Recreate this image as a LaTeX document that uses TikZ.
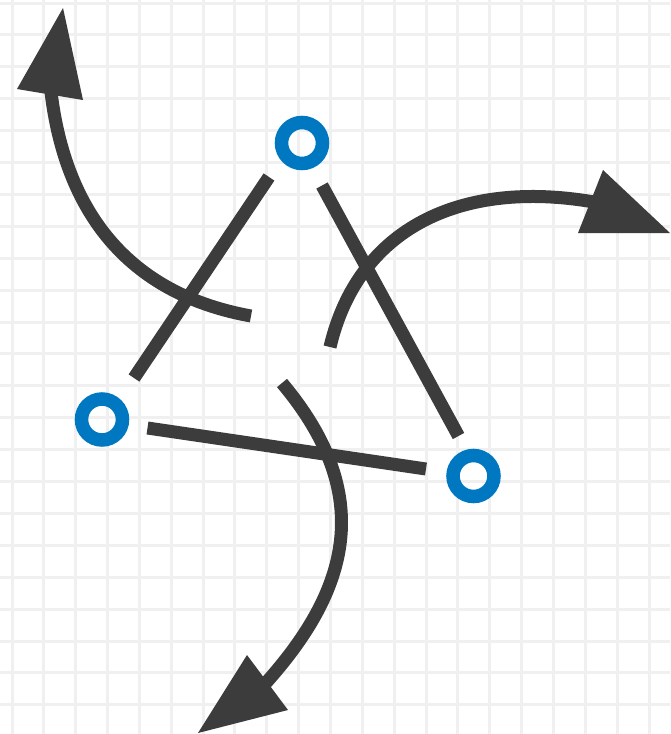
\documentclass[tikz,border=0pt]{standalone}
\definecolor{ink}{HTML}{3C3C3C}
\definecolor{ringblue}{HTML}{0078C1}
\definecolor{gridc}{HTML}{F0F0F0}
\begin{document}
\begin{tikzpicture}[x=1pt,y=-1pt,
  gridline/.style={draw=gridc,line width=3pt},
  ring/.style={circle,draw=ringblue,line width=13.5pt,minimum size=41pt,inner sep=0pt},
  bar/.style={draw=ink,line width=13pt,line cap=butt},
  head/.style={fill=ink,draw=none}]
\useasboundingbox (0,0) rectangle (670,734);
\fill[white] (0,0) rectangle (670,734);
% grid
\foreach \i in {0,...,20} {\draw[gridline] ({12+31.85*\i},0) -- ({12+31.85*\i},734);}
\foreach \j in {0,...,22} {\draw[gridline] (0,{3+31.9*\j}) -- (670,{3+31.9*\j});}
% rings
\node[ring] (top) at (302,143) {};
\node[ring] (left) at (102,419.5) {};
\node[ring] (right) at (473.5,476) {};
% line end coordinates
\coordinate (l1a) at (269,177);
\coordinate (l1b) at (134,378);
\coordinate (l2a) at (322,185.5);
\coordinate (l2b) at (458.5,436);
\coordinate (l3a) at (147.5,428);
\coordinate (l3b) at (426,469);
\draw[bar] (l1a) -- (l1b);
\draw[bar] (l2a) -- (l2b);
\draw[bar] (l3a) -- (l3b);
% curved arrows
\coordinate (as) at (251,316);
\coordinate (ae) at (51,92);
\draw[bar] (as) .. controls (118,292) and (64,200) .. (ae);
\fill[head] (17,89) -- (83,100) -- (63,8) -- cycle;
\coordinate (bs) at (330,347);
\coordinate (be) at (594,202);
\draw[bar] (bs) .. controls (358,228) and (461,179) .. (be);
\fill[head] (603,170) -- (578,233) -- (670,233) -- cycle;
\coordinate (cs) at (282,383);
\coordinate (ce) at (264,685);
\draw[bar] (cs) .. controls (376,495) and (350,590) .. (ce);
\fill[head] (247,655) -- (288,710) -- (198,733) -- cycle;
\end{tikzpicture}
\end{document}
